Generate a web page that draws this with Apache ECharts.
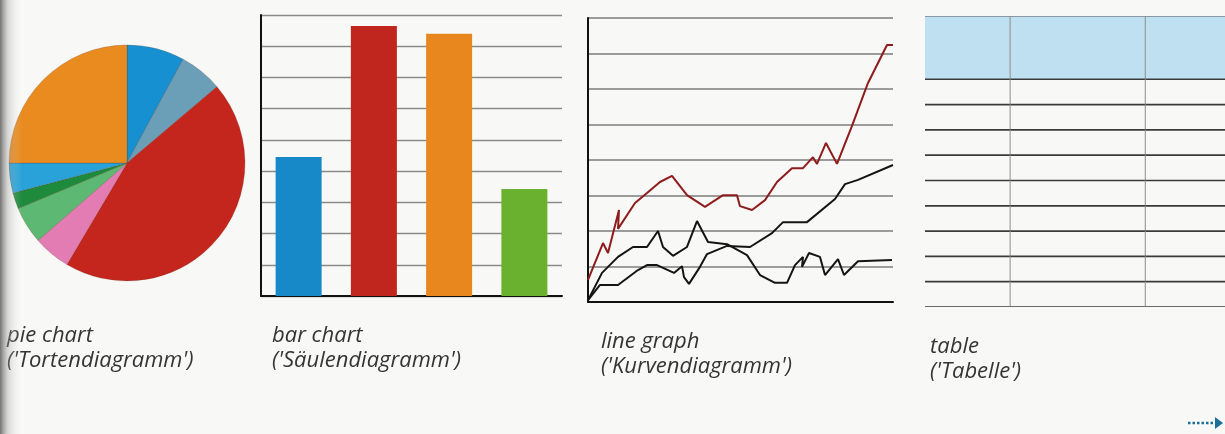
<!DOCTYPE html>
<html>
<head>
<meta charset="utf-8">
<script src="https://cdn.jsdelivr.net/npm/echarts@6/dist/echarts.min.js"></script>
<style>
  html, body { margin: 0; padding: 0; background: #f7f7f5; }
  #chart { width: 1225px; height: 434px; }
</style>
</head>
<body>
<div id="chart"></div>
<script>
// pie chart: slice shares (percent), clockwise from 12 o'clock
const pieNames = ['a', 'b', 'c', 'd', 'e', 'f', 'g', 'h']
const pieValues = [7.9, 5.9, 44.7, 5.1, 5.1, 2.2, 4.1, 25.0]

// bar chart
const barCategories = ['1', '2', '3', '4']
const barValues = [4.45, 8.65, 8.4, 3.43]

// line graph: [x, y] points
const redLine = [[0, 0.62], [15, 1.66], [20, 1.38], [31, 2.59], [30, 2.06], [47, 2.79], [59, 3.07], [72, 3.38],
  [84, 3.55], [99, 3.01], [117, 2.68], [135, 3.01], [149, 3.01], [152, 2.7], [164, 2.59], [177, 2.87],
  [189, 3.38], [204, 3.77], [215, 3.77], [225, 4.08], [229, 3.89], [238, 4.48], [249, 3.89], [264, 4.96],
  [280, 6.17], [299, 7.24], [305, 7.24]]
const blackLineA = [[0, 0.05], [14, 0.82], [30, 1.27], [45, 1.55], [59, 1.55], [70, 2.0], [75, 1.55], [85, 1.3],
  [99, 1.55], [109, 2.28], [120, 1.69], [139, 1.63], [159, 1.32], [172, 0.76], [187, 0.54], [199, 0.54],
  [207, 1.04], [215, 1.27], [214, 0.99], [221, 1.38], [232, 1.27], [237, 0.76], [250, 1.21], [256, 0.76],
  [270, 1.15], [304, 1.18]]
const blackLineB = [[0, 0.05], [12, 0.48], [30, 0.48], [50, 0.9], [59, 1.04], [69, 1.04], [86, 0.82], [94, 1.01],
  [96, 0.7], [101, 0.51], [112, 0.99], [119, 1.35], [139, 1.58], [162, 1.55], [184, 1.94], [195, 2.25],
  [219, 2.25], [247, 2.9], [257, 3.32], [270, 3.44], [305, 3.86]]

// table: empty header + 9 empty rows (third column runs off the page)
const tableColumns = ['', '', '']
const tableRows = ['', '', '', '', '', '', '', '', '']

// captions
const captions = [
  ['pie chart', "('Tortendiagramm')"],
  ['bar chart', "('Säulendiagramm')"],
  ['line graph', "('Kurvendiagramm')"],
  ['table', "('Tabelle')"]
]

// colours
const pieColors = ['#1690d0', '#6b9fb8', '#c4261e', '#e27cb2', '#5cb872', '#1d8a3c', '#28a2d8', '#e98b1f']
const barColors = ['#1788c8', '#c0251e', '#e8871e', '#6ab12f']

// table geometry in cell units
const colWidths = [0.63, 1, 1]
const headerHeight = 2.5
const visibleTableWidth = 2.22
const colEdges = colWidths.reduce((acc, w) => { acc.push(acc[acc.length - 1] + w); return acc }, [0])
const rowEdges = [0, headerHeight].concat(tableRows.map((_, i) => headerHeight + i + 1))

const tableCells = []
for (let r = 0; r <= tableRows.length; r++) {
  for (let c = 0; c < tableColumns.length; c++) tableCells.push([c, r])
}

const renderCell = (params, api) => {
  const c = api.value(0)
  const r = api.value(1)
  const p0 = api.coord([colEdges[c], rowEdges[r]])
  const p1 = api.coord([colEdges[c + 1], rowEdges[r + 1]])
  const children = []
  if (r === 0) {
    children.push({
      type: 'rect',
      shape: { x: p0[0], y: p0[1], width: p1[0] - p0[0], height: p1[1] - p0[1] },
      style: { fill: '#bfe0f1' }
    })
    children.push({
      type: 'line',
      shape: { x1: p0[0], y1: p0[1], x2: p1[0], y2: p0[1] },
      style: { stroke: '#555', lineWidth: 1.2 }
    })
  }
  if (c > 0) {
    children.push({
      type: 'line',
      shape: { x1: p0[0], y1: p0[1], x2: p0[0], y2: p1[1] },
      style: { stroke: '#8c8c8c', lineWidth: 1 }
    })
  }
  children.push({
    type: 'line',
    shape: { x1: p0[0], y1: p1[1], x2: p1[0], y2: p1[1] },
    style: { stroke: '#3a3a3a', lineWidth: 1.7 }
  })
  return { type: 'group', children }
}

// caption positions
const captionPos = [[7, 340], [272, 340], [601, 346], [930, 351]]
const captionGraphics = []
captions.forEach((pair, i) => {
  pair.forEach((txt, j) => {
    captionGraphics.push({
      type: 'text',
      left: captionPos[i][0],
      top: captionPos[i][1] + j * 25 - 15,
      style: {
        text: txt,
        font: 'italic 22px "Open Sans", sans-serif',
        fill: '#353535'
      }
    })
  })
})

const chart = echarts.init(document.getElementById('chart'))

chart.setOption({
  animation: false,
  backgroundColor: '#f8f8f6',
  grid: [
    { left: 261, top: 15, width: 301, height: 281 },
    { left: 588, top: 18, width: 305, height: 284 },
    { left: 925, top: 16, width: 300, height: 291 }
  ],
  xAxis: [
    {
      gridIndex: 0,
      type: 'category',
      data: barCategories,
      axisTick: { show: false },
      axisLabel: { show: false },
      axisLine: { lineStyle: { color: '#111', width: 2 } }
    },
    {
      gridIndex: 1,
      type: 'value',
      min: 0,
      max: 305,
      splitLine: { show: false },
      axisTick: { show: false },
      axisLabel: { show: false },
      axisLine: { lineStyle: { color: '#111', width: 2 } }
    },
    {
      gridIndex: 2,
      type: 'value',
      min: 0,
      max: visibleTableWidth,
      show: false
    }
  ],
  yAxis: [
    {
      gridIndex: 0,
      type: 'value',
      min: 0,
      max: 9,
      interval: 1,
      axisLabel: { show: false },
      axisTick: { show: false },
      axisLine: { show: true, lineStyle: { color: '#111', width: 2 } },
      splitLine: { lineStyle: { color: '#8a8a8a', width: 1.4 } }
    },
    {
      gridIndex: 1,
      type: 'value',
      min: 0,
      max: 8,
      interval: 1,
      axisLabel: { show: false },
      axisTick: { show: false },
      axisLine: { show: true, lineStyle: { color: '#111', width: 2 } },
      splitLine: { lineStyle: { color: '#7d7d7d', width: 1.5 } }
    },
    {
      gridIndex: 2,
      type: 'value',
      inverse: true,
      min: 0,
      max: rowEdges[rowEdges.length - 1],
      show: false
    }
  ],
  series: [
    {
      type: 'pie',
      center: [127, 163],
      radius: 118,
      startAngle: 90,
      label: { show: false },
      labelLine: { show: false },
      itemStyle: { borderColor: 'rgba(90,40,20,0.35)', borderWidth: 0.6 },
      data: pieValues.map((v, i) => ({ name: pieNames[i], value: v, itemStyle: { color: pieColors[i] } }))
    },
    {
      type: 'bar',
      xAxisIndex: 0,
      yAxisIndex: 0,
      barWidth: 46,
      data: barValues.map((v, i) => ({ value: v, itemStyle: { color: barColors[i] } }))
    },
    {
      type: 'line',
      xAxisIndex: 1,
      yAxisIndex: 1,
      symbol: 'none',
      lineStyle: { color: '#8e1c1c', width: 2 },
      data: redLine
    },
    {
      type: 'line',
      xAxisIndex: 1,
      yAxisIndex: 1,
      symbol: 'none',
      lineStyle: { color: '#141414', width: 2 },
      data: blackLineA
    },
    {
      type: 'line',
      xAxisIndex: 1,
      yAxisIndex: 1,
      symbol: 'none',
      lineStyle: { color: '#141414', width: 2 },
      data: blackLineB
    },
    {
      type: 'custom',
      xAxisIndex: 2,
      yAxisIndex: 2,
      clip: true,
      renderItem: renderCell,
      data: tableCells
    }
  ],
  graphic: captionGraphics.concat([
    {
      type: 'line',
      shape: { x1: 1188, y1: 423, x2: 1215, y2: 423 },
      style: { stroke: '#1b6e9b', lineWidth: 2.5, lineDash: [2.5, 2] }
    },
    {
      type: 'polygon',
      shape: { points: [[1215, 417], [1223, 423], [1215, 429]] },
      style: { fill: '#1b6e9b' }
    },
    {
      type: 'rect',
      z: 100,
      shape: { x: 0, y: 0, width: 22, height: 434 },
      style: {
        fill: new echarts.graphic.LinearGradient(0, 0, 1, 0, [
          { offset: 0, color: 'rgba(70,70,70,0.75)' },
          { offset: 0.35, color: 'rgba(150,150,150,0.35)' },
          { offset: 1, color: 'rgba(240,240,240,0)' }
        ])
      }
    }
  ])
})

window.addEventListener('resize', () => chart.resize())
</script>
</body>
</html>
